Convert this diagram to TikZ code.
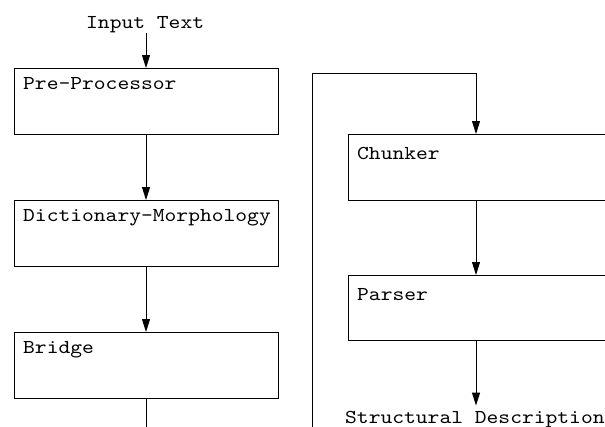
\documentclass[tikz,border=0pt]{standalone}
\usepackage{fontspec}
\newfontfamily\cour{lmmono10-regular}[Extension=.otf, FakeStretch=1.14]
\usetikzlibrary{arrows.meta,calc}
\begin{document}
\begin{tikzpicture}[x=1pt,y=-1pt,
  stage/.style={draw, line width=0.9pt, minimum width=264pt, minimum height=66pt,
    inner sep=0pt, outer sep=0pt, anchor=north west},
  rstage/.style={stage, minimum width=290pt},
  lbl/.style={font=\cour\fontsize{19.7}{22}\selectfont, inner sep=0pt, anchor=base west},
  flow/.style={line width=0.9pt, -{Triangle[length=13pt,width=8pt]}},
  wire/.style={line width=0.9pt}]
\useasboundingbox (0,0) rectangle (605,426);
\clip (0,0) rectangle (605,426);

% left column of stages
\node[stage] (pre) at (14,68) {};
\node[stage] (dict) at (14,200) {};
\node[stage] (bridge) at (14,332) {};
\node[lbl] at ([shift={(9,21)}]pre.north west) {Pre-Processor};
\node[lbl] at ([shift={(9,21)}]dict.north west) {Dictionary-Morphology};
\node[lbl] at ([shift={(9,21)}]bridge.north west) {Bridge};

% right column of stages (running off the right edge)
\node[rstage] (chunker) at (348,134) {};
\node[rstage, minimum height=65pt] (parser) at (348,275) {};
\node[lbl] at ([shift={(9,25)}]chunker.north west) {Chunker};
\node[lbl] at ([shift={(9,25)}]parser.north west) {Parser};

% input and output texts
\node[lbl] (input) at (86,28) {Input Text};
\node[lbl] (sd) at (345,423) {Structural Description};

% routing points
\coordinate (rx) at (476,0);
\coordinate (leftout) at (146,430);
\coordinate (loopbot) at (312,430);
\coordinate (looptop) at (312,73);

% connectors
\draw[flow] (input.south -| pre.north) -- (pre.north);
\draw[flow] (pre) -- (dict);
\draw[flow] (dict) -- (bridge);
\draw[wire] (bridge) -- (leftout);
\draw[flow] (loopbot) -- (looptop) -- (rx |- looptop) -- (rx |- chunker.north);
\draw[flow] (rx |- chunker.south) -- (rx |- parser.north);
\draw[flow] (rx |- parser.south) -- ([yshift=5pt]rx |- sd.north);
\end{tikzpicture}
\end{document}
